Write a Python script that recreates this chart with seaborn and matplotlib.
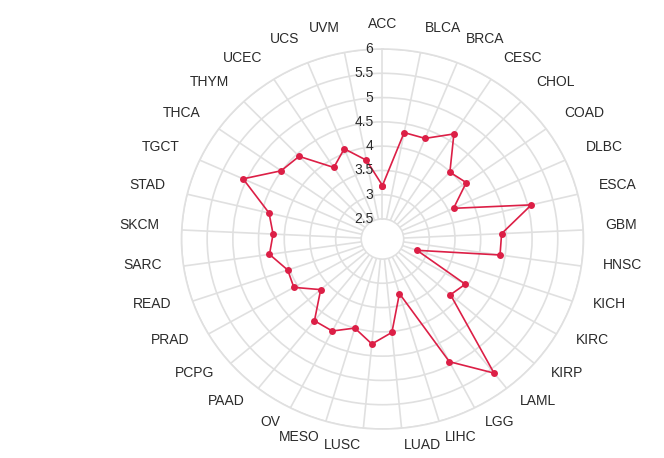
import numpy as np
import pandas as pd
import matplotlib
matplotlib.use('Agg')
import matplotlib.pyplot as plt
import matplotlib.transforms as mtransforms
import seaborn as sns

# data
cancers = ['ACC', 'BLCA', 'BRCA', 'CESC', 'CHOL', 'COAD', 'DLBC', 'ESCA', 'GBM',
           'HNSC', 'KICH', 'KIRC', 'KIRP', 'LAML', 'LGG', 'LIHC', 'LUAD', 'LUSC',
           'MESO', 'OV', 'PAAD', 'PCPG', 'PRAD', 'READ', 'SARC', 'SKCM', 'STAD',
           'TGCT', 'THCA', 'THYM', 'UCEC', 'UCS', 'UVM']
values = [3.19, 4.32, 4.32, 4.66, 3.99, 4.09, 3.61, 5.07, 4.41,
          4.40, 2.80, 3.95, 3.84, 5.60, 4.93, 3.26, 4.02, 4.26,
          4.00, 4.22, 4.23, 3.68, 4.08, 4.04, 4.31, 4.22, 4.36,
          5.07, 4.51, 4.44, 3.84, 4.09, 3.74]
r_ticks = [2.5, 3, 3.5, 4, 4.5, 5, 5.5, 6]
r_tick_labels = ['2.5', '3', '3.5', '4', '4.5', '5', '5.5', '6']

sns.set_theme(style='white')
plt.rcParams['font.family'] = ['Liberation Sans', 'DejaVu Sans']

grid_col = '#e0e0e0'
line_col = '#dc1f46'
text_col = '#2b2b2b'

theta = np.linspace(0, 2 * np.pi, len(cancers), endpoint=False)
df = pd.DataFrame({'theta': np.append(theta, theta[0]),
                   'value': values + values[:1]})

fig = plt.figure(figsize=(6.64, 4.58), dpi=100)
ax = fig.add_axes([0.2733, 0.0633, 0.6054, 0.8297], projection='polar')
ax.set_aspect('auto')
ax.set_theta_zero_location('N')
ax.set_theta_direction(-1)
ax.set_ylim(2.5, 6)
ax.set_rorigin(2.089)

# grid
ax.set_xticks(theta)
ax.set_xticklabels([])
ax.set_yticks(r_ticks)
ax.set_yticklabels([])
ax.grid(True, color=grid_col, linewidth=1.2)
ax.spines['polar'].set_color(grid_col)
ax.spines['polar'].set_linewidth(1.2)
ax.spines['inner'].set_color(grid_col)
ax.spines['inner'].set_linewidth(1.0)
ax.tick_params(length=0)

sns.lineplot(data=df, x='theta', y='value', ax=ax, sort=False, estimator=None,
             color=line_col, linewidth=1.2, marker='o', markersize=5,
             markeredgewidth=0, zorder=5)
ax.set_xlabel('')
ax.set_ylabel('')

# category labels around the circle
lab_shift = mtransforms.ScaledTranslation(0, 4 / 100, fig.dpi_scale_trans)
for t, name in zip(theta, cancers):
    s = np.sin(t)
    if abs(s) < 0.01:
        ha = 'center'
    elif s > 0:
        ha = 'left'
    else:
        ha = 'right'
    ax.text(t, 6.43, name, ha=ha, va='center', fontsize=10, color=text_col,
            transform=ax.transData + lab_shift, clip_on=False)

# radial tick labels along the first spoke
offset = mtransforms.ScaledTranslation(-9 / 100, 0, fig.dpi_scale_trans)
for rv, lab in zip(r_ticks, r_tick_labels):
    ax.text(0, rv, lab, ha='right', va='center', fontsize=10, color=text_col,
            transform=ax.transData + offset, zorder=6)

fig.savefig('out.png', dpi=100)
